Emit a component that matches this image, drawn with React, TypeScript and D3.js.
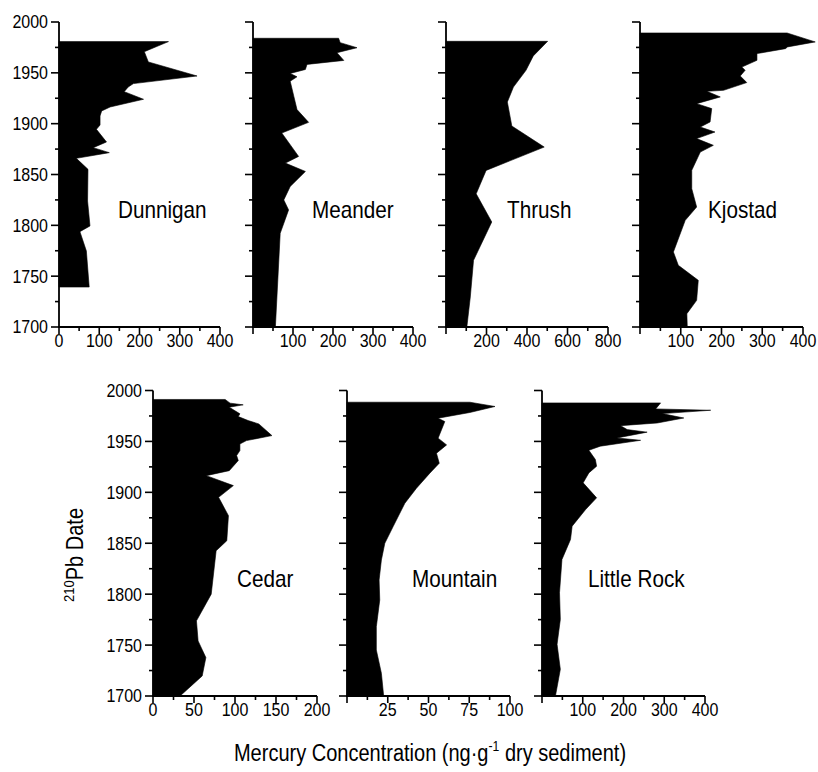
import React from "react";
import * as d3 from "d3";

// ---- data: [year, mercury ng/g] from core top to bottom ----
const dunnigan: [number, number][] = [
  [1980.7, 272], [1970.8, 212], [1960.7, 222], [1946.9, 343], [1939.4, 185], [1936.1, 172],
  [1931.5, 162], [1924, 210], [1916.4, 127], [1912.5, 106], [1907.6, 102], [1898.7, 102],
  [1894.4, 93], [1882, 118], [1876.4, 85], [1871.5, 125], [1865.9, 43], [1855.1, 72],
  [1823.9, 71], [1799.4, 77], [1793.8, 52], [1774.8, 68], [1739.3, 75],
];
const meander: [number, number][] = [
  [1984, 214], [1979.7, 218], [1974.7, 260], [1969.8, 210], [1962.2, 227], [1958.3, 135],
  [1953.3, 131], [1949.4, 93], [1946.1, 110], [1941.8, 93], [1927, 102], [1913.9, 110],
  [1901.3, 139], [1890.8, 72], [1867.8, 114], [1861.2, 81], [1853, 131], [1838.2, 93],
  [1825, 77], [1815.2, 89], [1792.1, 68], [1700, 56],
];
const thrush: [number, number][] = [
  [1981, 502], [1966.6, 431], [1952.5, 395], [1936, 333], [1921.3, 303], [1897.7, 325],
  [1877, 485], [1854, 198], [1831, 149], [1803.3, 226], [1765.6, 136], [1729.5, 120], [1700, 103],
];
const kjostad: [number, number][] = [
  [1989.2, 361], [1980.4, 430], [1975.5, 362], [1973.8, 357], [1968.9, 287], [1962.3, 287],
  [1955.7, 250], [1952.5, 258], [1946.9, 246], [1940.4, 262], [1932.8, 205], [1931.8, 164],
  [1926.3, 197], [1919.7, 139], [1914.8, 176], [1901.7, 172], [1896.7, 148], [1891.8, 184],
  [1885.3, 139], [1878.7, 180], [1872.1, 148], [1854.1, 127], [1836.1, 127], [1818, 139],
  [1804.9, 111], [1773.8, 82], [1760.7, 94], [1745.9, 143], [1726.2, 139], [1713.1, 115], [1700, 116],
];
const cedar: [number, number][] = [
  [1991.2, 88], [1987.6, 94], [1985.9, 110], [1983.6, 93], [1977.1, 106], [1974.4, 104],
  [1970.5, 116], [1967.2, 129], [1955.7, 145], [1950.8, 114], [1947.5, 106], [1941, 106],
  [1936.1, 102], [1931.2, 104], [1921.3, 93], [1916.4, 65], [1906.6, 98], [1895.1, 80],
  [1877.1, 92], [1852.5, 90], [1842.6, 77], [1800, 71], [1773.8, 53], [1754.1, 55],
  [1737.7, 64.5], [1719.7, 60], [1700, 33],
];
const mountain: [number, number][] = [
  [1988.5, 75.4], [1984.3, 90.8], [1978.4, 75.4], [1972.8, 55.9], [1969.5, 60], [1953.2, 55.9],
  [1946.6, 61.1], [1938.4, 54.9], [1928.6, 56.6], [1918.8, 50.8], [1904, 42.6], [1889.3, 35.5],
  [1866.4, 28.3], [1850, 23.2], [1833.6, 21.1], [1814, 19.7], [1794.3, 20.1], [1768.1, 18],
  [1745.2, 18], [1722.3, 21.1], [1700, 22.5],
];
const littleRock: [number, number][] = [
  [1987.8, 291], [1981.9, 279], [1980.6, 414], [1977.3, 295], [1973, 348], [1968.1, 283],
  [1965.5, 193], [1961.6, 209], [1959.1, 258], [1953.4, 184], [1951.1, 242], [1945.3, 143],
  [1941.3, 115], [1932.2, 131], [1925.6, 134], [1919.1, 115], [1909.3, 101], [1894.6, 134],
  [1883.1, 107], [1866.8, 74], [1853.7, 70], [1834.1, 49], [1801.4, 43], [1775.2, 45],
  [1750.7, 37], [1726.2, 45], [1700, 33],
];

const lakeNames = ["Dunnigan", "Meander", "Thrush", "Kjostad", "Cedar", "Mountain", "Little Rock"];
const lakeSeries = [dunnigan, meander, thrush, kjostad, cedar, mountain, littleRock];
const xMaxima = [400, 400, 800, 400, 200, 100, 400];
const xTickLabels = [
  [0, 100, 200, 300, 400],
  [100, 200, 300, 400],
  [200, 400, 600, 800],
  [100, 200, 300, 400],
  [0, 50, 100, 150, 200],
  [25, 50, 75, 100],
  [100, 200, 300, 400],
];
const yearTicks = [1700, 1750, 1800, 1850, 1900, 1950, 2000];
const yearDomain = [1700, 2000];

// ---- layout ----
const W = 818, H = 772;
const FONT = "'Liberation Sans', Arial, Helvetica, sans-serif";
const TICK_FS = 18, TICK_SX = 0.89;
const NAME_FS = 23, NAME_SX = 0.9;
const TITLE_FS = 23, TITLE_SX = 0.87;
const rows = [
  { top: 22, bottom: 327 },
  { top: 390.5, bottom: 696 },
];
const panels = [
  { row: 0, left: 59, width: 161, showY: true, labelDx: 59 },
  { row: 0, left: 253, width: 160, showY: false, labelDx: 59 },
  { row: 0, left: 446, width: 162, showY: false, labelDx: 61 },
  { row: 0, left: 640, width: 163, showY: false, labelDx: 68 },
  { row: 1, left: 153, width: 164, showY: true, labelDx: 84 },
  { row: 1, left: 347, width: 163, showY: false, labelDx: 65 },
  { row: 1, left: 542, width: 163, showY: false, labelDx: 46 },
];

function SText(props: { x: number; y: number; sx: number; fs: number; anchor?: string; dy?: string; children: any }) {
  return (
    <text
      transform={`translate(${props.x},${props.y}) scale(${props.sx},1)`}
      dy={props.dy}
      textAnchor={props.anchor || "start"}
      fontSize={props.fs}
      fontFamily={FONT}
      fill="#000"
    >
      {props.children}
    </text>
  );
}

function Panel({ i }: { i: number }) {
  const p = panels[i];
  const r = rows[p.row];
  const x = d3.scaleLinear().domain([0, xMaxima[i]]).range([p.left, p.left + p.width]);
  const y = d3.scaleLinear().domain(yearDomain).range([r.bottom, r.top]);
  const area = d3
    .area<[number, number]>()
    .x0(() => x(0))
    .x1((d) => x(d[1]))
    .y((d) => y(d[0]))
    .curve(d3.curveLinear);
  const ticks = xTickLabels[i];
  const step = ticks[1] - ticks[0];
  const allX: number[] = [];
  for (let v = 0; v <= xMaxima[i] + 1e-9; v += step / 2) allX.push(v);
  const allY: number[] = [];
  for (let v = 1700; v <= 2000; v += 25) allY.push(v);
  const sw = 1.8;
  return (
    <g>
      <path d={area(lakeSeries[i]) || ""} fill="#000" stroke="#000" strokeWidth={0.6} />
      <line x1={x(0)} x2={x(0)} y1={y(2000)} y2={y(1700) + 1} stroke="#000" strokeWidth={sw} />
      <line x1={x(0) - 1} x2={x(xMaxima[i])} y1={y(1700)} y2={y(1700)} stroke="#000" strokeWidth={sw} />
      {allY.map((v) => {
        const major = v % 50 === 0;
        return (
          <line key={"y" + v} x1={x(0) - (major ? 8 : 4)} x2={x(0)} y1={y(v)} y2={y(v)} stroke="#000" strokeWidth={1.6} />
        );
      })}
      {allX.map((v) => {
        const major = Math.abs(v / step - Math.round(v / step)) < 1e-6;
        return (
          <line key={"x" + v} x1={x(v)} x2={x(v)} y1={y(1700)} y2={y(1700) + (major ? 7 : 4)} stroke="#000" strokeWidth={1.6} />
        );
      })}
      {ticks.map((v) => (
        <SText key={"xl" + v} x={x(v)} y={y(1700) + 19.5} sx={TICK_SX} fs={TICK_FS} anchor="middle">
          {v}
        </SText>
      ))}
      {p.showY &&
        yearTicks.map((v) => (
          <SText key={"yl" + v} x={x(0) - 11} y={y(v)} dy="0.36em" sx={TICK_SX} fs={TICK_FS} anchor="end">
            {v}
          </SText>
        ))}
      <SText x={x(0) + p.labelDx} y={r.top + 196} sx={NAME_SX} fs={NAME_FS}>
        {lakeNames[i]}
      </SText>
    </g>
  );
}

export default function App() {
  return (
    <svg width={W} height={H} style={{ position: "absolute", left: 0, top: 0, background: "#fff" }}>
      <rect width={W} height={H} fill="#fff" />
      {panels.map((_, i) => (
        <Panel key={i} i={i} />
      ))}
      <text
        transform={`translate(83,555) rotate(-90) scale(${TITLE_SX},1)`}
        textAnchor="middle"
        fontSize={TITLE_FS}
        fontFamily={FONT}
        fill="#000"
      >
        <tspan fontSize={15} dy={-9}>210</tspan>
        <tspan dy={9}>Pb Date</tspan>
      </text>
      <text
        transform={`translate(430,761) scale(${TITLE_SX},1)`}
        textAnchor="middle"
        fontSize={TITLE_FS}
        fontFamily={FONT}
        fill="#000"
      >
        <tspan>Mercury Concentration (ng·g</tspan>
        <tspan fontSize={14} dy={-10}>-1</tspan>
        <tspan dy={10}> dry sediment)</tspan>
      </text>
    </svg>
  );
}
